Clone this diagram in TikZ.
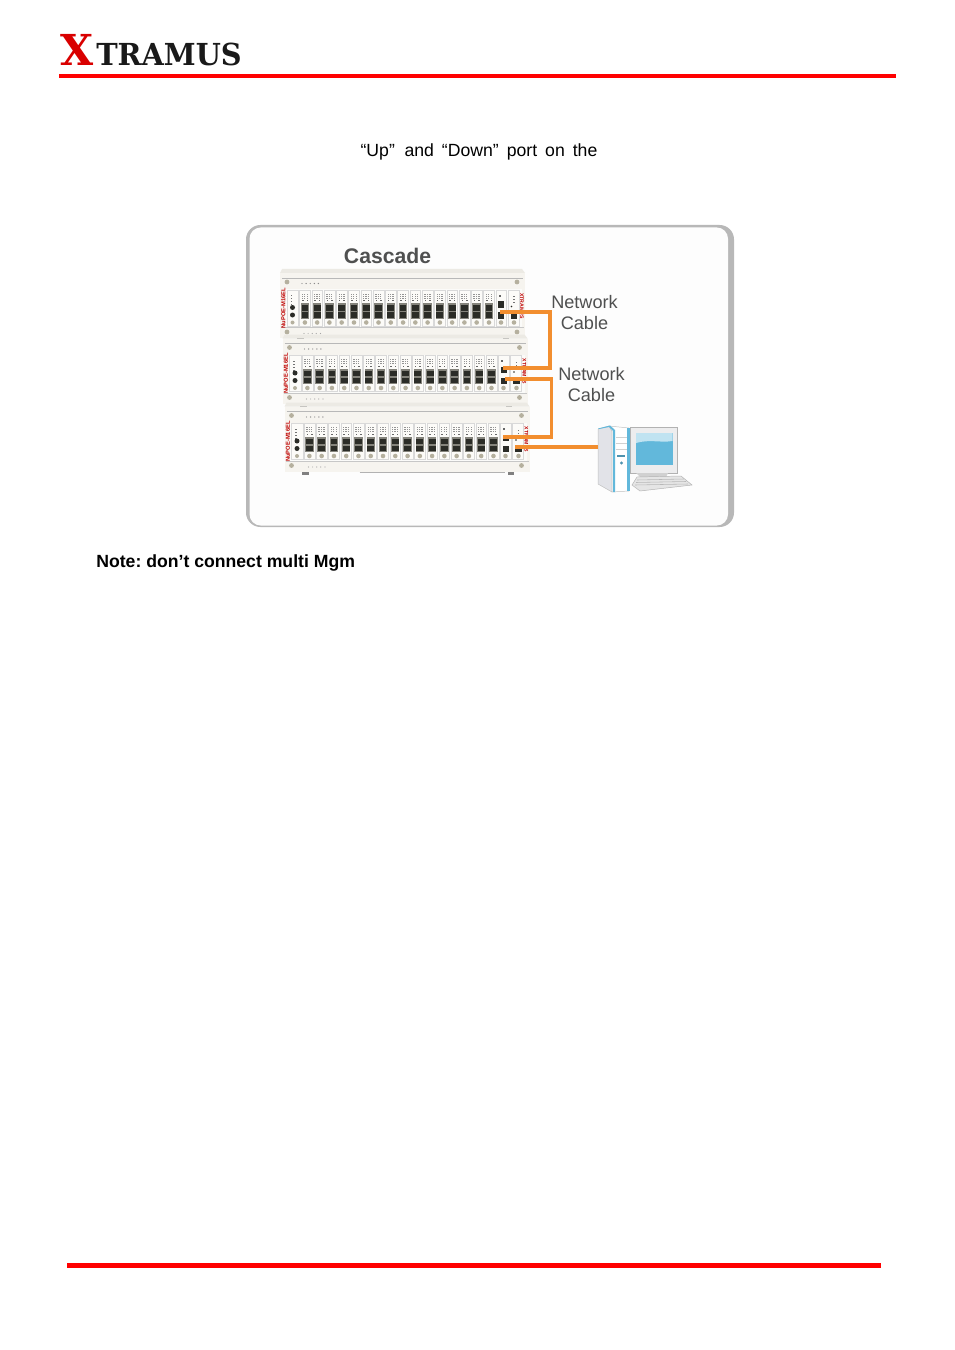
\documentclass[tikz,border=0pt]{standalone}
\usepackage{fontspec}
\setmainfont{Liberation Sans}
\newfontfamily\logofont{DejaVu Serif}
\definecolor{cablecol}{HTML}{F28E2F}
\definecolor{barred}{HTML}{FF0000}
\definecolor{panelgray}{HTML}{B8B8B8}
\definecolor{labelgray}{HTML}{4F5050}
\definecolor{rackface}{HTML}{F6F4EF}
\definecolor{rackedge}{HTML}{E4E1D9}
\definecolor{cardface}{HTML}{FCFBF8}
\definecolor{portblack}{HTML}{2B2C27}
\definecolor{porthalo}{HTML}{85847C}
\definecolor{screw}{HTML}{B5B09E}
\definecolor{pcblue}{HTML}{62B8DB}
\definecolor{pcside}{HTML}{E2E3E8}
\definecolor{bezel}{HTML}{EDEDEE}
\frenchspacing
\tikzset{
  bar/.style={fill=barred,draw=none},
  cable/.style={draw=cablecol,line width=2.4pt,line join=miter},
  bodytext/.style={inner sep=0pt,font=\fontsize{11}{13}\selectfont},
  nettext/.style={inner sep=0pt,align=center,text=labelgray,font=\fontsize{11.3}{12.6}\selectfont},
  pcpart/.style={draw=black!25,line width=.3pt},
}
% rack drawn at offset (#1,#2) in pixels
\newcommand{\rackat}[2]{%
\begin{scope}[shift={(#1,#2)}]
  \fill[rackedge!70] (282,269) -- (522,269) -- (525,273) -- (280,273) -- cycle;
  \fill[rackface] (280,273) rectangle (525,338);
  \draw[black!28,line width=.3pt] (282,278) -- (523,278);
  \fill[white!60!rackface] (285,289) rectangle (522,327);
  \draw[black!22,line width=.3pt] (281,327.5) -- (524,327.5);
  \fill[screw] (287,282) circle (2.4);
  \fill[screw] (517,282) circle (2.4);
  \fill[screw] (287,332) circle (2.4);
  \fill[screw] (517,332) circle (2.4);
  \foreach \d in {0,1,2,3,4}{\fill[black!45] (302+\d*4.1,283.5) circle (.7);}
  \foreach \d in {0,1,2,3,4}{\fill[black!35] (304+\d*4.1,333.5) circle (.6);}
  % management card
  \fill[cardface] (287,290) rectangle (298.5,326);
  \draw[black!15,line width=.25pt] (287,290) rectangle (298.5,326);
  \foreach \d in {0,1,2,3}{\fill[black!55] (290.5,295+\d*3) rectangle (292,296+\d*3);}
  \fill[portblack] (292.5,307.5) circle (2.5);
  \fill[portblack] (292.5,315) circle (2.5);
  \fill[screw] (292.5,322.5) circle (2);
  % line cards
  \foreach \n in {0,...,15}{
    \pgfmathsetmacro{\cx}{299.5+\n*12.27}
    \fill[cardface] (\cx,290) rectangle (\cx+10.7,326);
    \draw[black!15,line width=.25pt] (\cx,290) rectangle (\cx+10.7,326);
    \foreach \a in {0,1,2}{\foreach \b in {0,1,2}{
      \fill[black!42] (\cx+2.2+\a*2.4,293.5+\b*2) rectangle (\cx+3.5+\a*2.4,294.6+\b*2);}}
    \fill[black!60] (\cx+2.5,300) rectangle (\cx+4,301);
    \fill[black!60] (\cx+7,300) rectangle (\cx+8.5,301);
    \fill[porthalo] (\cx+1.2,303) rectangle (\cx+9.6,318.5);
    \fill[portblack] (\cx+2,305) rectangle (\cx+8.8,310.5);
    \fill[portblack] (\cx+2,312) rectangle (\cx+8.8,317.5);
    \fill[screw] (\cx+5.4,322.5) circle (2.3);
  }
  % uplink card
  \fill[cardface] (496,290) rectangle (506.5,326);
  \draw[black!15,line width=.25pt] (496,290) rectangle (506.5,326);
  \fill[black!60] (498.5,294.5) rectangle (500.5,296.5);
  \fill[portblack] (498,301) rectangle (504,307.5);
  \fill[portblack] (498,312) rectangle (504,318.5);
  \fill[screw] (501,322.5) circle (2.3);
  % right card
  \fill[cardface] (508,290) rectangle (519,326);
  \draw[black!15,line width=.25pt] (508,290) rectangle (519,326);
  \foreach \d in {0,1,2}{\fill[black!55] (513,296+\d*3.2) rectangle (514.5,297+\d*3.2);}
  \fill[portblack] (511.5,306.5) circle (.9);
  \fill[portblack] (510.5,312) rectangle (517,318.5);
  \fill[screw] (514,322.5) circle (2.3);
  % labels on the rack
  \node[rotate=90,text=red!75!black,inner sep=0pt,font=\bfseries\fontsize{3.6}{4}\selectfont] at (283.4,308) {NuPOE-M16EL};
  \node[rotate=-90,text=red!75!black,inner sep=0pt,font=\bfseries\fontsize{3.2}{4}\selectfont] at (522,306) {XTRAMUS};
  % feet
  \fill[black!50] (297,338) rectangle (304,341);
  \draw[black!30,line width=.5pt] (355,339) -- (500,339);
  \fill[black!50] (503,338) rectangle (509,341);
\end{scope}}
\begin{document}
\begin{tikzpicture}[x=0.6237pt,y=-0.6237pt]
\useasboundingbox[fill=white] (0,0) rectangle (954,1350);
% header
\node[inner sep=0pt,anchor=base west,text=red!85!black,font=\logofont\bfseries\fontsize{26.6}{30}\selectfont] (logoX) at (60,66) {X};
\node[inner sep=0pt,anchor=base west,text=black!90,font=\logofont\bfseries\fontsize{18.9}{21}\selectfont,xscale=.95] (logoT) at (96,65.5) {TRAMUS};
\fill[bar] (59,74) rectangle (896,78.5);
\fill[bar] (67,1263) rectangle (881,1267.5);
\node[bodytext,anchor=base] (line1) at (479,156.5) {“Up”\hspace{6pt}and\hspace{5pt}“Down”\hspace{5pt}port\hspace{5pt}on\hspace{5pt}the};
% panel
\fill[panelgray,rounded corners=9pt] (246,225) rectangle (734,527);
\fill[white!97!panelgray,rounded corners=7pt] (249.5,227.5) rectangle (728,525.5);
\node[inner sep=0pt,text=labelgray,font=\bfseries\fontsize{13.2}{14}\selectfont] (title) at (387.5,256) {Cascade};
\rackat{0}{0}
\rackat{2.5}{65.5}
\rackat{4.5}{133.5}
\node[nettext] (net1) at (584.5,312.5) {Network\\Cable};
\node[nettext] (net2) at (591.5,384.5) {Network\\Cable};
% computer
\fill[pcside,pcpart] (598,429) -- (609,426) -- (612,431) -- (612,492) -- (598,484) -- cycle;
\fill[white,pcpart] (609,426) -- (629,428) -- (629,491) -- (612,492) -- (612,431) -- cycle;
\fill[pcblue] (599,429) -- (609,427) -- (613,431) -- (613,492) -- (615,492) -- (615,430) -- (610,425.5) -- (598,428.5) -- cycle;
\fill[pcblue] (627,428) rectangle (630,491);
\foreach \k in {437,443,449}{\draw[black!18,line width=.3pt] (616,\k) -- (627,\k);}
\fill[pcblue!80!black] (616.5,454.5) rectangle (625,456.5);
\fill[pcblue!80!black] (621.5,463) circle (1.6);
\fill[bezel,draw=black!30,line width=.4pt] (630,427.5) rectangle (677,473);
\fill[black!18] (636,473) -- (668,473) -- (666,477) -- (640,477) -- cycle;
\fill[pcblue] (636,433) rectangle (672.5,465);
\fill[pcblue!40] (636,433) -- (672.5,433) -- (672.5,441) .. controls (660,443) and (650,439) .. (636,443) -- cycle;
\fill[black!10,draw=black!30,line width=.3pt] (637,477) -- (681,476) -- (692,485) -- (640,491) -- (632,485) -- cycle;
\foreach \k in {0,1,2}{\draw[black!28,line width=.35pt] (637-\k,480+\k*2.5) -- (684+\k*2,479+\k*2.5);}
\coordinate (pc) at (598,447);
% cables
\coordinate (a1) at (500,312);
\coordinate (a2) at (503,368);
\coordinate (b1) at (505,379);
\coordinate (b2) at (503,437);
\coordinate (c1) at (515,447);
\draw[cable] (a1) -| (550,368) -- (a2);
\draw[cable] (b1) -| (551.5,437) -- (b2);
\draw[cable] (c1) -- (pc);
\node[anchor=base west,inner sep=0pt,font=\bfseries\fontsize{11}{13}\selectfont] (note) at (96,567) {Note: don’t connect multi Mgm};
\end{tikzpicture}
\end{document}
